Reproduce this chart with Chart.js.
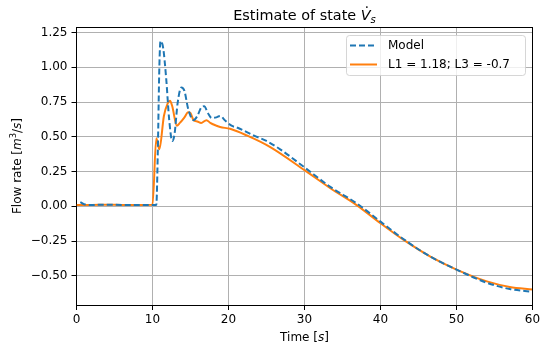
<!DOCTYPE html>
<html lang="en">
<head>
    <meta charset="UTF-8">
    <title>Estimate of state</title>
    <script src="https://cdn.jsdelivr.net/npm/chart.js@4.4.1/dist/chart.umd.min.js"></script>
    <style>
        html, body { margin: 0; padding: 0; background: #fff; }
        .chart-container { position: relative; width: 540px; height: 349px; }
    </style>
</head>
<body>
    <div class="chart-container">
        <canvas id="stateChart" width="540" height="349"></canvas>
    </div>
    <script>
        // Data
        const modelTime = [0.5, 1.0, 2, 4, 6, 8, 10, 10.5, 10.7, 10.9, 11.05, 11.4, 11.8, 12.2, 12.6, 12.9, 13.3, 13.8, 14.2, 14.7, 15.4, 15.9, 16.4, 16.8, 17.3, 17.8, 18.4, 18.9, 19.6, 20.4, 21.2, 23.3, 25, 26.8, 30, 33.4, 36.9, 40, 43, 46.5, 50, 54, 57, 60];
        const modelFlow = [0.03, 0.015, 0.01, 0.012, 0.01, 0.01, 0.01, 0.01, 0.4, 1.0, 1.19, 1.14, 0.92, 0.62, 0.47, 0.52, 0.74, 0.855, 0.83, 0.7, 0.62, 0.65, 0.71, 0.72, 0.67, 0.635, 0.64, 0.65, 0.615, 0.58, 0.565, 0.51, 0.47, 0.41, 0.28, 0.14, 0.02, -0.11, -0.235, -0.36, -0.455, -0.55, -0.595, -0.615];

        const estTime = [0, 2, 4, 6, 8, 10, 10.5, 10.9, 11.5, 12.0, 12.3, 12.6, 13.2, 13.6, 14.2, 14.7, 15.0, 15.4, 15.9, 16.4, 17.1, 17.6, 18.4, 18.9, 20.2, 22.4, 25.5, 30, 33.4, 36.9, 40, 43, 46.5, 50, 54, 57, 60];
        const estFlow = [0.01, 0.01, 0.012, 0.01, 0.01, 0.012, 0.49, 0.41, 0.65, 0.74, 0.76, 0.72, 0.58, 0.6, 0.64, 0.677, 0.67, 0.62, 0.61, 0.6, 0.62, 0.6, 0.58, 0.57, 0.558, 0.51, 0.426, 0.26, 0.13, 0.007, -0.122, -0.24, -0.36, -0.455, -0.54, -0.58, -0.598];

        const xTicks = [0, 10, 20, 30, 40, 50, 60];
        const yTicks = [-0.5, -0.25, 0, 0.25, 0.5, 0.75, 1.0, 1.25];

        const FONT = '"DejaVu Sans", sans-serif';
        const BLUE = '#1f77b4';
        const ORANGE = '#ff7f0e';

        function toPoints(xs, ys) {
            return xs.map((x, i) => ({ x: x, y: ys[i] }));
        }

        function fmtY(v) {
            const s = Math.abs(v).toFixed(2);
            return v < 0 ? '\u2212' + s : s;
        }

        // Title, axis labels, top/right spines and legend drawn matplotlib-style
        const decorations = {
            id: 'decorations',
            afterDraw(chart) {
                const ctx = chart.ctx;
                const area = chart.chartArea;
                const cx = (area.left + area.right) / 2;
                const cy = (area.top + area.bottom) / 2;
                ctx.save();

                // top and right spines
                ctx.strokeStyle = '#000';
                ctx.lineWidth = 1;
                const top = Math.round(area.top) + 0.5;
                const right = Math.round(area.right) - 0.5;
                ctx.beginPath();
                ctx.moveTo(area.left, top);
                ctx.lineTo(right + 0.5, top);
                ctx.moveTo(right, top);
                ctx.lineTo(right, area.bottom);
                ctx.stroke();

                ctx.fillStyle = '#000';
                ctx.textBaseline = 'alphabetic';
                ctx.textAlign = 'left';

                // Title: Estimate of state V̇s
                const tSize = 14.4;
                ctx.font = tSize + 'px ' + FONT;
                const part1 = 'Estimate of state ';
                const w1 = ctx.measureText(part1).width;
                ctx.font = 'italic ' + tSize + 'px ' + FONT;
                const wV = ctx.measureText('V').width;
                ctx.font = 'italic ' + (tSize * 0.7) + 'px ' + FONT;
                const wS = ctx.measureText('s').width;
                const total = w1 + wV + wS;
                let x0 = cx - total / 2;
                const base = 20;
                ctx.font = tSize + 'px ' + FONT;
                ctx.fillText(part1, x0, base);
                ctx.font = 'italic ' + tSize + 'px ' + FONT;
                ctx.fillText('V', x0 + w1, base);
                ctx.beginPath();
                ctx.arc(x0 + w1 + wV * 0.62, base - tSize * 0.9, 0.9, 0, Math.PI * 2);
                ctx.fill();
                ctx.font = 'italic ' + (tSize * 0.7) + 'px ' + FONT;
                ctx.fillText('s', x0 + w1 + wV, base + 3);

                // x label: Time [s]
                const lSize = 12;
                ctx.font = lSize + 'px ' + FONT;
                const a = 'Time [', b = 's', c = ']';
                const wa = ctx.measureText(a).width;
                const wc = ctx.measureText(c).width;
                ctx.font = 'italic ' + lSize + 'px ' + FONT;
                const wb = ctx.measureText(b).width;
                let xl = cx - (wa + wb + wc) / 2;
                const yl = 341;
                ctx.font = lSize + 'px ' + FONT;
                ctx.fillText(a, xl, yl);
                ctx.font = 'italic ' + lSize + 'px ' + FONT;
                ctx.fillText(b, xl + wa, yl);
                ctx.font = lSize + 'px ' + FONT;
                ctx.fillText(c, xl + wa + wb, yl);

                // y label: Flow rate [m^3/s]
                ctx.save();
                ctx.translate(21, cy);
                ctx.rotate(-Math.PI / 2);
                const pieces = [
                    { t: 'Flow rate [', f: lSize + 'px ', dy: 0 },
                    { t: 'm', f: 'italic ' + lSize + 'px ', dy: 0 },
                    { t: '3', f: (lSize * 0.7) + 'px ', dy: -5 },
                    { t: '/', f: lSize + 'px ', dy: 0 },
                    { t: 's', f: 'italic ' + lSize + 'px ', dy: 0 },
                    { t: ']', f: lSize + 'px ', dy: 0 }
                ];
                let tw = 0;
                pieces.forEach(p => { ctx.font = p.f + FONT; p.w = ctx.measureText(p.t).width; tw += p.w; });
                let px = -tw / 2;
                pieces.forEach(p => {
                    ctx.font = p.f + FONT;
                    ctx.fillText(p.t, px, p.dy);
                    px += p.w;
                });
                ctx.restore();

                // Legend box
                const bx = 346.5, by = 35.5, bw = 179, bh = 40, r = 3;
                ctx.beginPath();
                ctx.moveTo(bx + r, by);
                ctx.arcTo(bx + bw, by, bx + bw, by + bh, r);
                ctx.arcTo(bx + bw, by + bh, bx, by + bh, r);
                ctx.arcTo(bx, by + bh, bx, by, r);
                ctx.arcTo(bx, by, bx + bw, by, r);
                ctx.closePath();
                ctx.fillStyle = 'rgba(255,255,255,0.8)';
                ctx.fill();
                ctx.strokeStyle = 'rgba(204,204,204,0.8)';
                ctx.lineWidth = 1;
                ctx.stroke();

                ctx.lineWidth = 2;
                ctx.strokeStyle = BLUE;
                ctx.setLineDash([6, 3]);
                ctx.beginPath();
                ctx.moveTo(350, 45.5);
                ctx.lineTo(377, 45.5);
                ctx.stroke();
                ctx.setLineDash([]);
                ctx.strokeStyle = ORANGE;
                ctx.beginPath();
                ctx.moveTo(350, 64.5);
                ctx.lineTo(377, 64.5);
                ctx.stroke();

                ctx.fillStyle = '#000';
                ctx.font = lSize + 'px ' + FONT;
                ctx.textBaseline = 'middle';
                ctx.fillText('Model', 388, 45.5);
                ctx.fillText('L1 = 1.18; L3 = -0.7', 388, 64.5);
                ctx.restore();
            }
        };

        const ctx = document.getElementById('stateChart').getContext('2d');
        new Chart(ctx, {
            type: 'line',
            data: {
                datasets: [{
                    label: 'Model',
                    data: toPoints(modelTime, modelFlow),
                    borderColor: BLUE,
                    borderWidth: 2,
                    borderDash: [6, 3],
                    pointRadius: 0,
                    cubicInterpolationMode: 'monotone',
                    fill: false
                }, {
                    label: 'L1 = 1.18; L3 = -0.7',
                    data: toPoints(estTime, estFlow),
                    borderColor: ORANGE,
                    borderWidth: 2,
                    pointRadius: 0,
                    cubicInterpolationMode: 'monotone',
                    fill: false
                }]
            },
            options: {
                responsive: false,
                animation: false,
                layout: { padding: { left: 0, right: 7.5, top: 27, bottom: 0 } },
                plugins: {
                    legend: { display: false },
                    title: { display: false },
                    tooltip: { enabled: false }
                },
                scales: {
                    x: {
                        type: 'linear',
                        min: 0,
                        max: 60,
                        afterFit(scale) {
                            scale.height = 44;
                            scale.paddingLeft = 0;
                            scale.paddingRight = 0;
                        },
                        afterBuildTicks(scale) { scale.ticks = xTicks.map(v => ({ value: v })); },
                        grid: { color: '#b0b0b0', lineWidth: 1, tickColor: '#000', tickLength: 5, drawOnChartArea: true },
                        border: { display: true, color: '#000', width: 1 },
                        ticks: { color: '#000', font: { family: FONT, size: 12 }, padding: 3, maxRotation: 0 }
                    },
                    y: {
                        type: 'linear',
                        min: -0.71,
                        max: 1.29,
                        afterFit(scale) {
                            scale.width = 76.5;
                            scale.paddingTop = 0;
                            scale.paddingBottom = 0;
                        },
                        afterBuildTicks(scale) { scale.ticks = yTicks.map(v => ({ value: v })); },
                        grid: { color: '#b0b0b0', lineWidth: 1, tickColor: '#000', tickLength: 5 },
                        border: { display: true, color: '#000', width: 1 },
                        ticks: {
                            color: '#000',
                            font: { family: FONT, size: 12 },
                            padding: 4,
                            callback: v => fmtY(v)
                        }
                    }
                }
            },
            plugins: [decorations]
        });
    </script>
</body>
</html>
